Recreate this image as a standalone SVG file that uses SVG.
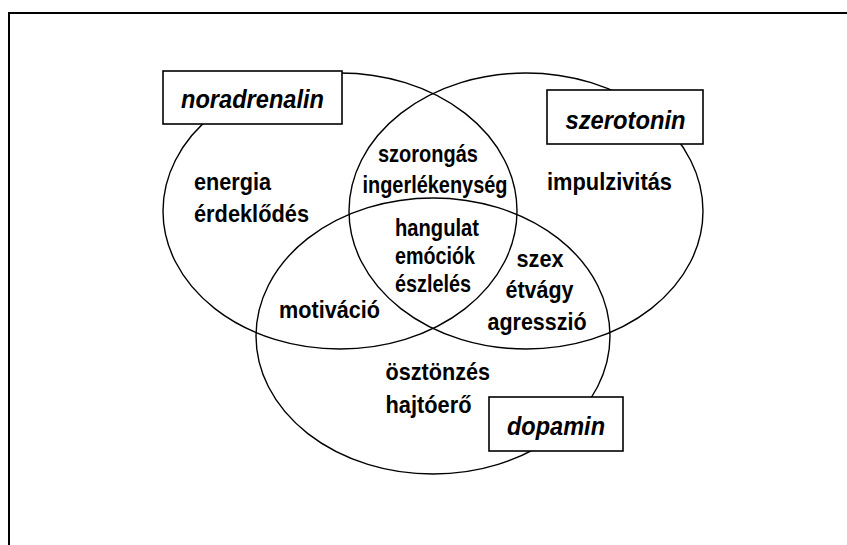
<svg xmlns="http://www.w3.org/2000/svg" width="847" height="545" viewBox="0 0 847 545">
<style>
.frame{fill:none;stroke:#000;stroke-width:2}
.set{fill:none;stroke:#000;stroke-width:1.4}
.box{fill:#fff;stroke:#000;stroke-width:1.6}
text{font-family:"Liberation Sans",Arial,sans-serif;font-weight:bold;font-size:24px;fill:#000}
.lbl{font-style:italic;font-size:25px}
</style>
<rect width="847" height="545" fill="#fff"/>
<path class="frame" d="M9,545 V13 H847"/>
<g id="connectors"></g>
<g id="set-noradrenalin"><ellipse class="set" cx="340" cy="211" rx="177" ry="138"/></g>
<g id="set-szerotonin"><ellipse class="set" cx="526" cy="211" rx="177" ry="138"/></g>
<g id="set-dopamin"><ellipse class="set" cx="433" cy="336" rx="177" ry="138"/></g>
<g id="noradrenalin">
<rect class="box" x="163" y="71" width="179" height="53"/>
<text class="lbl" x="181" y="107.5" textLength="143" lengthAdjust="spacingAndGlyphs">noradrenalin</text>
</g>
<g id="szerotonin">
<rect class="box" x="547" y="90" width="156" height="54"/>
<text class="lbl" x="565.5" y="128.5" textLength="120" lengthAdjust="spacingAndGlyphs">szerotonin</text>
</g>
<g id="dopamin">
<rect class="box" x="489" y="397" width="134" height="54"/>
<text class="lbl" x="507" y="434.5" textLength="98" lengthAdjust="spacingAndGlyphs">dopamin</text>
</g>
<g id="region-labels">
<text x="194" y="190" textLength="77" lengthAdjust="spacingAndGlyphs">energia</text>
<text x="194" y="222" textLength="115" lengthAdjust="spacingAndGlyphs">érdeklődés</text>
<text x="378" y="162" textLength="100" lengthAdjust="spacingAndGlyphs">szorongás</text>
<text x="362.5" y="193" textLength="145" lengthAdjust="spacingAndGlyphs">ingerlékenység</text>
<text x="547" y="190" textLength="125" lengthAdjust="spacingAndGlyphs">impulzivitás</text>
<text x="395" y="236" textLength="84" lengthAdjust="spacingAndGlyphs">hangulat</text>
<text x="395" y="264" textLength="80" lengthAdjust="spacingAndGlyphs">emóciók</text>
<text x="395" y="292" textLength="76" lengthAdjust="spacingAndGlyphs">észlelés</text>
<text x="516.5" y="267" textLength="47" lengthAdjust="spacingAndGlyphs">szex</text>
<text x="505.5" y="298" textLength="68" lengthAdjust="spacingAndGlyphs">étvágy</text>
<text x="487.5" y="330" textLength="99" lengthAdjust="spacingAndGlyphs">agresszió</text>
<text x="279" y="318" textLength="101" lengthAdjust="spacingAndGlyphs">motiváció</text>
<text x="385.5" y="380" textLength="104.5" lengthAdjust="spacingAndGlyphs">ösztönzés</text>
<text x="385.5" y="413" textLength="86" lengthAdjust="spacingAndGlyphs">hajtóerő</text>
</g>
</svg>
